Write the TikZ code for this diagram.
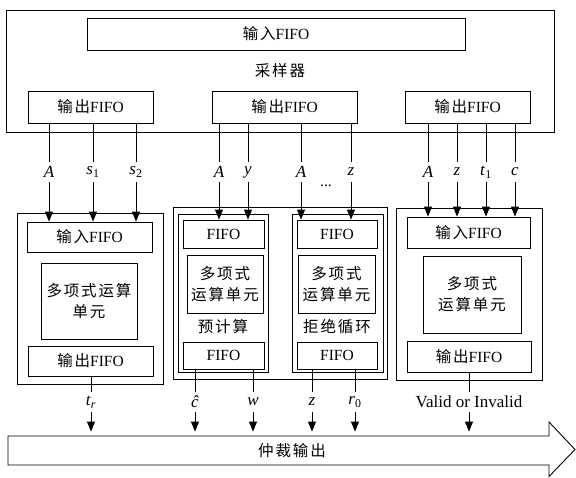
\documentclass[tikz,border=0pt]{standalone}
\usepackage{fontspec}
\setmainfont{Liberation Serif}
\newfontfamily\cjk[LetterSpace=12]{Noto Sans CJK SC}
\usetikzlibrary{arrows.meta}
\newcommand\myfs{\fontsize{15.5}{21}\selectfont}
\newcommand\mylblfs{\fontsize{17}{19}\selectfont}
\begin{document}
\begin{tikzpicture}[x=1pt,y=-1pt,line width=0.9pt,
  box/.style={draw,inner sep=0pt,font=\myfs,align=center},
  txt/.style={inner sep=0pt,font=\myfs,align=center},
  lbl/.style={inner sep=0pt,minimum height=20pt,font=\mylblfs},
  arr/.style={-{Triangle[width=8pt,length=10pt]}}]
\useasboundingbox (0,0) rectangle (576,477);
% sampler
\node[box,minimum width=548,minimum height=122] (smp) at (280,71) {{\cjk 采样器}};
\node[box,minimum width=378,minimum height=32] (inF) at (276,34) {{\cjk 输入}FIFO};
\node[box,minimum width=125,minimum height=32] (oF1) at (90.5,107) {{\cjk 输出}FIFO};
\node[box,minimum width=145,minimum height=32] (oF2) at (284.5,107) {{\cjk 输出}FIFO};
\node[box,minimum width=125,minimum height=32] (oF3) at (467.5,107) {{\cjk 输出}FIFO};
% module 1
\node[box,minimum width=146,minimum height=171] (M1) at (90,298.5) {};
\node[box,minimum width=125,minimum height=30] (M1in) at (89.5,237) {{\cjk 输入}FIFO};
\node[box,minimum width=96,minimum height=76] (M1poly) at (89,301) {\cjk 多项式运算\\\cjk 单元};
\node[box,minimum width=125,minimum height=30] (M1out) at (90.5,361) {{\cjk 输出}FIFO};
% module 2
\node[box,minimum width=214,minimum height=172] (M2) at (280,293) {};
\node[box,minimum width=90,minimum height=158] (P) at (223,293) {};
\node[box,minimum width=81,minimum height=28] (Pin) at (223.5,234) {FIFO};
\node[box,minimum width=76,minimum height=58] (Ppoly) at (225,284) {\cjk 多项式\\\cjk 运算单元};
\node[txt] (Plbl) at (223,327) {\cjk 预计算};
\node[box,minimum width=81,minimum height=27] (Pout) at (223.5,355.5) {FIFO};
\node[box,minimum width=91,minimum height=158] (R) at (337.5,293) {};
\node[box,minimum width=80,minimum height=28] (Rin) at (337,234) {FIFO};
\node[box,minimum width=77,minimum height=58] (Rpoly) at (336.5,284) {\cjk 多项式\\\cjk 运算单元};
\node[txt] (Rlbl) at (337,327) {\cjk 拒绝循环};
\node[box,minimum width=80,minimum height=27] (Rout) at (337,355.5) {FIFO};
% module 3
\node[box,minimum width=146,minimum height=172] (M3) at (469,294) {};
\node[box,minimum width=123,minimum height=31] (M3in) at (468.5,232.5) {{\cjk 输入}FIFO};
\node[box,minimum width=98,minimum height=77] (M3poly) at (472,294.5) {\cjk 多项式\\\cjk 运算单元};
\node[box,minimum width=124,minimum height=31] (M3out) at (469,356.5) {{\cjk 输出}FIFO};
% input labels
\node[lbl] (a1) at (49,172) {\textit{A}};
\node[lbl] (a2) at (93,172) {\textit{s}\textsubscript{1}};
\node[lbl] (a3) at (136,172) {\textit{s}\textsubscript{2}};
\node[lbl] (b1) at (219,172) {\textit{A}};
\node[lbl] (b2) at (248,172) {\textit{y}};
\node[lbl] (b3) at (301,172) {\textit{A}};
\node[lbl] (b4) at (351,172) {\textit{z}};
\node[txt] (dots) at (326,186) {...};
\node[lbl] (c1) at (428,172) {\textit{A}};
\node[lbl] (c2) at (457,172) {\textit{z}};
\node[lbl] (c3) at (486,172) {\textit{t}\textsubscript{1}};
\node[lbl] (c4) at (515,172) {\textit{c}};
\foreach \l/\s/\t in {a1/oF1/M1in,a2/oF1/M1in,a3/oF1/M1in,b1/oF2/Pin,b2/oF2/Pin,b3/oF2/Rin,b4/oF2/Rin,c1/oF3/M3in,c2/oF3/M3in,c3/oF3/M3in,c4/oF3/M3in}{
  \draw (\s.south -| \l) -- (\l.north);
  \draw[arr] (\l.south) -- (\l |- \t.north);
}
% big arrow
\draw (8,436) -- (549,436) -- (549,422) -- (575,449.5) -- (549,476.5) -- (549,465) -- (8,465) -- cycle;
\node[inner sep=0pt,minimum width=541,minimum height=29] (arb) at (278.5,450.5) {};
\node[txt] (arbtxt) at (292,451) {\cjk 仲裁输出};
% output labels
\node[lbl] (d1) at (91,402) {\textit{t}\textsubscript{\textit{r}}};
\node[lbl] (d2) at (195,402) {\textit{\^c}};
\node[lbl] (d3) at (253,402) {\textit{w}};
\node[lbl] (d4) at (312,402) {\textit{z}};
\node[lbl] (d5) at (355,402) {\textit{r}\textsubscript{0}};
\node[lbl] (d6) at (469,402) {Valid or Invalid};
\foreach \l/\s in {d1/M1out,d2/Pout,d3/Pout,d4/Rout,d5/Rout,d6/M3out}{
  \draw (\s.south -| \l) -- (\l.north);
  \draw[arr,shorten >=4pt] (\l.south) -- (\l |- arb.north);
}
\end{tikzpicture}
\end{document}
